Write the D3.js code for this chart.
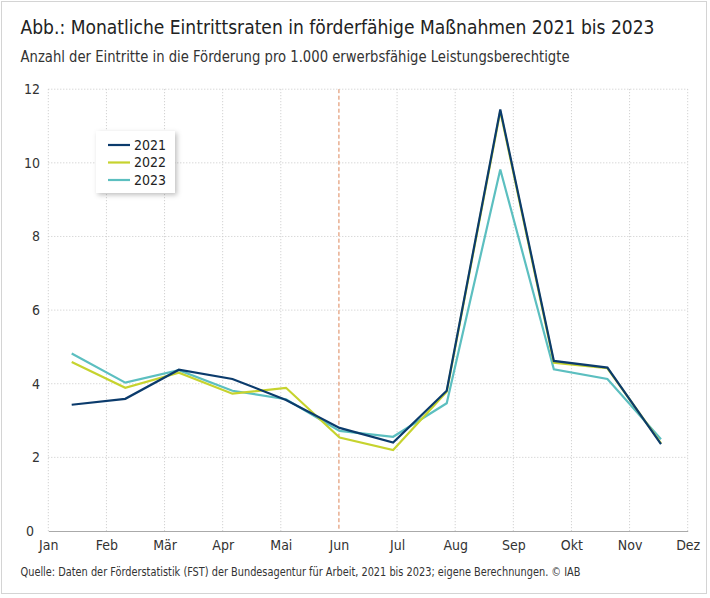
<!DOCTYPE html>
<html>
<head>
<meta charset="utf-8">
<script src="https://cdn.jsdelivr.net/npm/d3@7"></script>
<style>
  body { margin: 0; background: #fff; }
  svg { display: block; font-family: "Liberation Sans Narrow", "DejaVu Sans Condensed", "Noto Sans", sans-serif; }
</style>
</head>
<body>
<div id="chart"></div>
<script>
const months = ["Jan", "Feb", "Mär", "Apr", "Mai", "Jun", "Jul", "Aug", "Sep", "Okt", "Nov", "Dez"];
const yTicks = [0, 2, 4, 6, 8, 10, 12];

const years = ["2021", "2022", "2023"];
const values2021 = [3.43, 3.59, 4.38, 4.13, 3.56, 2.80, 2.40, 3.81, 11.45, 4.62, 4.44, 2.36];
const values2022 = [4.59, 3.89, 4.30, 3.73, 3.89, 2.54, 2.20, 3.78, 11.40, 4.57, 4.42, 2.38];
const values2023 = [4.82, 4.03, 4.37, 3.81, 3.58, 2.72, 2.56, 3.47, 9.82, 4.39, 4.13, 2.49];
const colors = ["#0b3b6c", "#c6d32e", "#5cbfc0"];
const markerMonth = "Jun";

const width = 710, height = 598;
const fontStack = "\"Liberation Sans Narrow\", \"DejaVu Sans Condensed\", sans-serif";

const svg = d3.select("#chart").append("svg")
    .attr("width", width)
    .attr("height", height);

// frame
svg.append("rect")
    .attr("x", 1.5).attr("y", 1.5)
    .attr("width", 705).attr("height", 592)
    .attr("fill", "#fff")
    .attr("stroke", "#d4d4d4");

// title / subtitle / source
svg.append("text")
    .attr("x", 20.5).attr("y", 33.5)
    .attr("font-size", 19.5)
    .attr("fill", "#222")
    .attr("textLength", 634)
    .attr("lengthAdjust", "spacingAndGlyphs")
    .text("Abb.: Monatliche Eintrittsraten in förderfähige Maßnahmen 2021 bis 2023");

svg.append("text")
    .attr("x", 20.5).attr("y", 61.7)
    .attr("font-size", 15)
    .attr("fill", "#333")
    .attr("textLength", 549)
    .attr("lengthAdjust", "spacingAndGlyphs")
    .text("Anzahl der Eintritte in die Förderung pro 1.000 erwerbsfähige Leistungsberechtigte");

svg.append("text")
    .attr("x", 20.5).attr("y", 575.5)
    .attr("font-size", 11.5)
    .attr("fill", "#333")
    .attr("textLength", 560)
    .attr("lengthAdjust", "spacingAndGlyphs")
    .text("Quelle: Daten der Förderstatistik (FST) der Bundesagentur für Arbeit, 2021 bis 2023; eigene Berechnungen. © IAB");

// scales
const xTick = d3.scalePoint().domain(months).range([48.3, 687.7]);
const xData = d3.scalePoint().domain(months).range([71.7, 661]);
const y = d3.scaleLinear().domain([0, 12]).range([531, 89.2]);

// horizontal grid
svg.append("g")
    .selectAll("line")
    .data(yTicks.filter(d => d > 0))
    .join("line")
    .attr("x1", xTick("Jan")).attr("x2", xTick("Dez"))
    .attr("y1", d => y(d)).attr("y2", d => y(d))
    .attr("stroke", "#c8c8c8")
    .attr("stroke-dasharray", "1,2");

// vertical grid
svg.append("g")
    .selectAll("line")
    .data(months.filter(m => m !== markerMonth))
    .join("line")
    .attr("x1", d => xTick(d)).attr("x2", d => xTick(d))
    .attr("y1", y(12)).attr("y2", y(0))
    .attr("stroke", "#c8c8c8")
    .attr("stroke-dasharray", "1,2");

// marker line at Jun
svg.append("line")
    .attr("x1", xTick(markerMonth)).attr("x2", xTick(markerMonth))
    .attr("y1", y(12)).attr("y2", y(0))
    .attr("stroke", "#dc8558")
    .attr("stroke-dasharray", "4,2.5");

// x axis
const xAxis = svg.append("g")
    .attr("transform", `translate(0,${y(0)})`)
    .call(d3.axisBottom(xTick).tickSize(0).tickPadding(9));
xAxis.select(".domain").attr("stroke", "#aaa").attr("stroke-width", 1.2);
xAxis.selectAll("text")
    .attr("font-size", 14)
    .attr("fill", "#333")
    .style("font-family", fontStack);

// y axis labels
const yAxis = svg.append("g")
    .attr("transform", "translate(40,0)")
    .call(d3.axisLeft(y).tickValues(yTicks).tickSize(0).tickPadding(0));
yAxis.select(".domain").remove();
yAxis.selectAll("text")
    .attr("font-size", 14)
    .attr("fill", "#333")
    .style("font-family", fontStack);
yAxis.selectAll(".tick").filter(d => d === 0).select("text").attr("x", -6);

// lines (2021 drawn last so it sits on top)
const series = [values2021, values2022, values2023];
const line = d3.line()
    .x((d, i) => xData(months[i]))
    .y(d => y(d));

svg.append("g")
    .selectAll("path")
    .data([2, 1, 0])
    .join("path")
    .attr("d", k => line(series[k]))
    .attr("fill", "none")
    .attr("stroke", k => colors[k])
    .attr("stroke-width", 2.2)
    .attr("stroke-linejoin", "miter");

// legend
const defs = svg.append("defs");
const shadow = defs.append("filter").attr("id", "shadow")
    .attr("x", "-20%").attr("y", "-20%").attr("width", "150%").attr("height", "150%");
shadow.append("feDropShadow")
    .attr("dx", 2).attr("dy", 2).attr("stdDeviation", 2.5)
    .attr("flood-color", "#000").attr("flood-opacity", 0.25);

const legend = svg.append("g").attr("transform", "translate(96,131)");
legend.append("rect")
    .attr("width", 79).attr("height", 62)
    .attr("fill", "#fff")
    .attr("filter", "url(#shadow)");

const legendY = d3.scalePoint().domain(years).range([14, 49]);
const item = legend.selectAll("g.item")
    .data(years)
    .join("g")
    .attr("class", "item")
    .attr("transform", d => `translate(0,${legendY(d)})`);
item.append("line")
    .attr("x1", 12).attr("x2", 34)
    .attr("stroke", (d, i) => colors[i])
    .attr("stroke-width", 2.2);
item.append("text")
    .attr("x", 38).attr("dy", "0.35em")
    .attr("font-size", 14)
    .attr("fill", "#222")
    .text(d => d);
</script>
</body>
</html>
